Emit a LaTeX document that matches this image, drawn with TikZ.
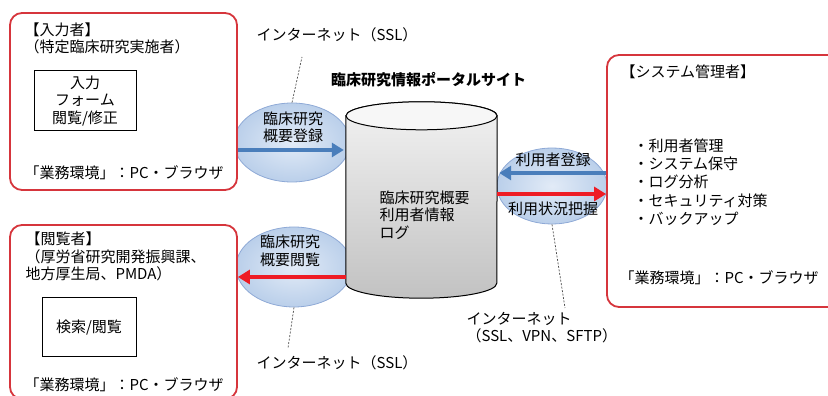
\documentclass[tikz,border=0pt]{standalone}
\usepackage{fontspec}
\setmainfont{Noto Sans CJK JP}
\usetikzlibrary{arrows.meta}
\usetikzlibrary{shapes.geometric}
\usetikzlibrary{positioning}
\usetikzlibrary{calc}
\definecolor{boxred}{HTML}{D6353C}
\definecolor{arrowred}{HTML}{EE1C25}
\definecolor{arrowblue}{HTML}{4A7EBB}
\definecolor{ellin}{HTML}{E2EBF7}
\definecolor{ellout}{HTML}{BACFEA}
\definecolor{elledge}{HTML}{8EA9D6}
\tikzset{usrbox/.style={draw=boxred, line width=1.8pt, rounded corners=12pt,
        fill=white, inner sep=0pt},
    formbox/.style={draw, line width=1pt, inner sep=0pt, align=center},
    netell/.style={ellipse, draw=elledge, line width=0.8pt,
        inner color=ellin, outer color=ellout, inner sep=0pt},
    bluearrow/.style={draw=arrowblue, line width=4pt,
        -{Triangle[length=12pt,width=14pt]}},
    redarrow/.style={draw=arrowred, line width=4pt,
        -{Triangle[length=12pt,width=14pt]}},
    netline/.style={draw=black!70, line width=0.7pt, dash pattern=on 2pt off 1.5pt}}

\begin{document}
\begin{tikzpicture}[x=1pt,y=1pt,font=\fontsize{15}{17.5}\selectfont]
    \useasboundingbox (0,0) rectangle (828,396);
    \clip (0,0) rectangle (828,396);

    % communication ellipses
    \node[netell, minimum width=116pt, minimum height=79pt] (regell) at (292,253.5) {};
    \node[netell, minimum width=116pt, minimum height=80pt] (viewell) at (294,129) {};
    \node[netell, minimum width=110pt, minimum height=76pt] (usrell) at (552,210) {};

    % user boxes
    \node[usrbox, minimum width=227pt, minimum height=177pt] (inbox) at (123.5,294.5) {};
    \node[usrbox, minimum width=227pt, minimum height=174pt] (viewbox) at (123.5,84) {};
    \node[usrbox, minimum width=233pt, minimum height=252pt] (adminbox) at (723.5,215) {};

    % portal database
    \node[minimum width=151pt, minimum height=167pt, inner sep=0pt] (db) at (421.5,196.5) {};
    \shade[top color=gray!10, bottom color=gray!48, draw=black, line width=1pt]
    (db.north west) -- (db.south west)
    arc[start angle=180, end angle=360, x radius=75.5pt, y radius=15pt]
    -- (db.north east)
    arc[start angle=0, end angle=180, x radius=75.5pt, y radius=14pt] -- cycle;
    \draw[fill=gray!6, line width=1pt] (db.north) ellipse [x radius=75.5pt, y radius=14pt];
    \node[anchor=west, align=left] (dbtxt) at (376,181) {臨床研究概要\\利用者情報\\ログ};
    \node[font=\fontsize{15}{17.5}\selectfont\bfseries] (title) at (428.5,316) {臨床研究情報ポータルサイト};

    % data flows
    \draw[bluearrow] ([yshift=-48.5pt]inbox.east) -- ([yshift=49.5pt,xshift=-2pt]db.west);
    \draw[redarrow] ([yshift=-77.5pt]db.west) -- ([yshift=35pt]viewbox.east);
    \draw[bluearrow] ([yshift=8pt]adminbox.west) -- ([yshift=26.5pt,xshift=2pt]db.east);
    \draw[redarrow] ([yshift=5.5pt]db.east) -- ([yshift=-13pt]adminbox.west);

    % ellipse labels
    \node[align=center] (regtxt) at (293,268.5) {臨床研究\\概要登録};
    \node[align=center] (viewtxt) at (290,145) {臨床研究\\概要閲覧};
    \node (usrregtxt) at (553,236) {利用者登録};
    \node (usrsttxt) at (553,187) {利用状況把握};

    % network labels
    \node (netA) at (337,361) {インターネット（SSL）};
    \node (netB) at (337,33) {インターネット（SSL）};
    \node[anchor=west, align=left] (netC) at (463,68.5) {インターネット\\（SSL、VPN、SFTP）};
    \coordinate (netAend) at (302,339);
    \coordinate (netBend) at (288,48);
    \coordinate (netCend) at (565,88);
    \draw[netline] (regell.north) -- (netAend);
    \draw[netline] (viewell.south) -- (netBend);
    \draw[netline] (usrell.south) -- (netCend);

    % input user
    \node[anchor=west, align=left] (inhead) at (21,357.5) {【入力者】\\（特定臨床研究実施者）};
    \node[formbox, minimum width=102pt, minimum height=60pt] (inform) at (85,295) {入力\\フォーム\\閲覧/修正};
    \node[anchor=west] (inenv) at (21,223) {「業務環境」：PC・ブラウザ};

    % viewer
    \node[anchor=west, align=left] (viewhead) at (22,139.5) {【閲覧者】\\（厚労省研究開発振興課、\\地方厚生局、PMDA）};
    \node[formbox, minimum width=94pt, minimum height=59pt] (viewform) at (89,68.5) {検索/閲覧};
    \node[anchor=west] (viewenv) at (21,11) {「業務環境」：PC・ブラウザ};

    % system administrator
    \node[anchor=west] (adminhead) at (617,324) {【システム管理者】};
    \node[anchor=west, align=left] (adminlist) at (630,214)
    {・利用者管理\\[0.8pt]・システム保守\\[0.8pt]・ログ分析\\[0.8pt]・セキュリティ対策\\[0.8pt]・バックアップ};
    \node[anchor=west] (adminenv) at (616,118) {「業務環境」：PC・ブラウザ};
\end{tikzpicture}
\end{document}
